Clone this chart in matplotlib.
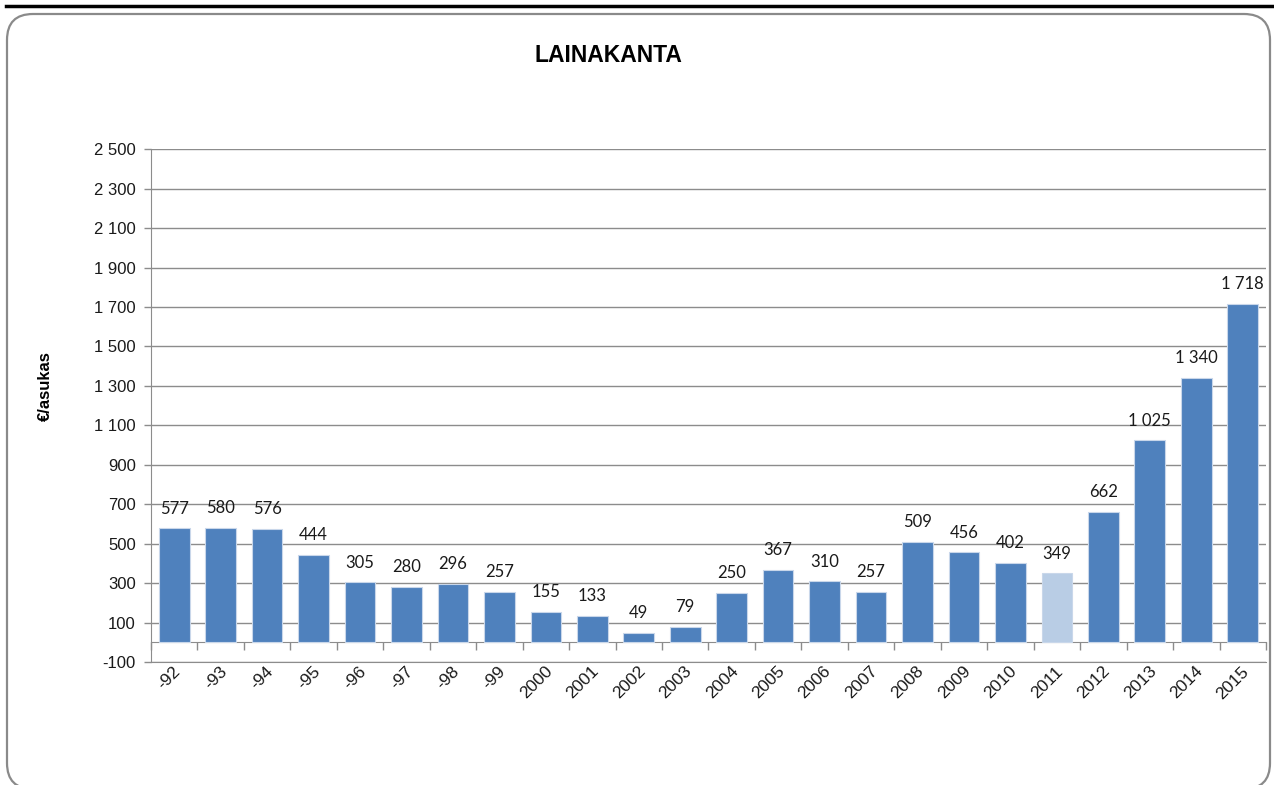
import matplotlib
matplotlib.use("Agg")
import matplotlib.pyplot as plt
import matplotlib.transforms as mtransforms
from matplotlib.patches import FancyBboxPatch
from matplotlib.lines import Line2D
import numpy as np

# data
years = ['-92', '-93', '-94', '-95', '-96', '-97', '-98', '-99', '2000', '2001',
         '2002', '2003', '2004', '2005', '2006', '2007', '2008', '2009', '2010',
         '2011', '2012', '2013', '2014', '2015']
lainakanta = [577, 580, 576, 444, 305, 280, 296, 257, 155, 133,
              49, 79, 250, 367, 310, 257, 509, 456, 402,
              349, 662, 1025, 1340, 1718]
highlight = '2011'
y_ticks = list(range(-100, 2501, 200))

BLUE = '#4f81bd'
LIGHT = '#b9cde5'
GRID = '#8c8c8c'

plt.rcParams['font.family'] = ['Liberation Sans', 'DejaVu Sans']


def fmt(v):
    return f"{v:,}".replace(",", " ")


fig = plt.figure(figsize=(12.74, 7.85), dpi=100)

# frame around the chart (rounded box) and black rule at the top
bg = fig.add_axes([0, 0, 1, 1], zorder=-1)
bg.set_xlim(0, 1274)
bg.set_ylim(785, 0)
bg.axis('off')
bg.add_patch(FancyBboxPatch((7, 14), 1263, 775, boxstyle="round,pad=0,rounding_size=26",
                            facecolor='white', edgecolor='#8a8a8a', linewidth=1.6))
bg.add_line(Line2D([6, 1274], [5.5, 5.5], color='black', linewidth=2.5))

ax = fig.add_axes([0.1185, 0.1567, 0.8752, 0.6531])
ax.set_facecolor('none')

x = np.arange(len(years))
colors = [LIGHT if y == highlight else BLUE for y in years]
bars = ax.bar(x, lainakanta, width=0.66, color=colors, edgecolor='#c9d7ea',
              linewidth=0.8, zorder=3)

for xi, v in zip(x, lainakanta):
    ax.annotate(fmt(v), (xi, v), xytext=(0, 10.5), textcoords='offset points',
                ha='center', va='baseline', fontsize=12, family=['Lato', 'DejaVu Sans'],
                color='#1a1a1a', zorder=4)

ax.set_xlim(-0.5, len(years) - 0.5)
ax.set_ylim(-100, 2500)
ax.set_yticks(y_ticks)
ax.set_yticklabels([fmt(t) for t in y_ticks], fontsize=12, color='#1a1a1a')
ax.yaxis.grid(True, color=GRID, linewidth=1, zorder=0)
ax.tick_params(axis='y', length=5, color=GRID, width=1, pad=6)

ax.set_xticks(x)
ax.set_xticklabels(years, rotation=45, ha='right', va='center',
                   rotation_mode='anchor', fontsize=12.5, color='#1a1a1a')
ax.tick_params(axis='x', length=0, pad=5)
shift = mtransforms.ScaledTranslation(4 / 100, 0, fig.dpi_scale_trans)
for lab in ax.get_xticklabels():
    lab.set_transform(lab.get_transform() + shift)

for side in ['top', 'right']:
    ax.spines[side].set_visible(False)
ax.spines['left'].set_color(GRID)
ax.spines['bottom'].set_color(GRID)

# category axis line at zero with tick marks between the bars
zero_loc = (0 - (-100)) / (2500 - (-100))
sec = ax.secondary_xaxis(zero_loc)
sec.set_xticks(np.arange(len(years) + 1) - 0.5)
sec.set_xticklabels([])
sec.tick_params(axis='x', length=6, color=GRID, width=1, direction='out')
sec.spines['bottom'].set_color(GRID)

fig.text(0.4775, 0.929, 'LAINAKANTA', ha='center', va='center', fontsize=16.5,
         fontweight='bold', family=['Liberation Sans Narrow', 'Liberation Sans', 'DejaVu Sans'])
fig.text(0.036, 0.508, '€/asukas', ha='center', va='center', rotation=90, fontsize=12,
         fontweight='bold', family=['Liberation Sans Narrow', 'Liberation Sans', 'DejaVu Sans'])

fig.savefig('out.png', dpi=100)
